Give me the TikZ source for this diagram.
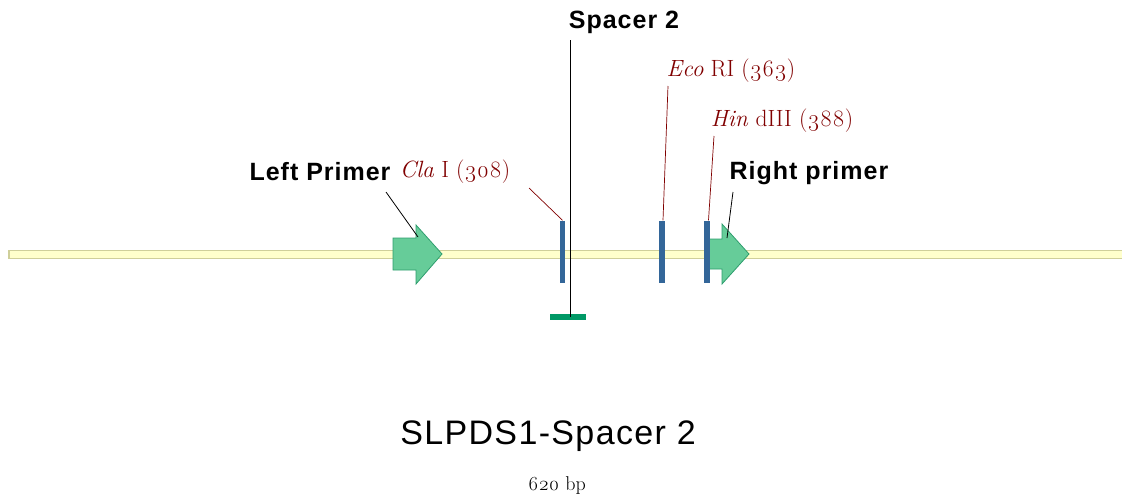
\documentclass[tikz,border=0pt]{standalone}
\usepackage{fontspec}
\newfontfamily\labfont{Liberation Sans}[LetterSpace=4]
\newfontfamily\titlefont{Liberation Sans}[LetterSpace=4]
\newfontfamily\sitefont{Latin Modern Roman}[Numbers=OldStyle]

\definecolor{sitered}{HTML}{800000}
\definecolor{barblue}{HTML}{336699}
\definecolor{primerfill}{HTML}{66CC99}
\definecolor{primerdraw}{HTML}{2E9E6E}
\definecolor{spacergreen}{HTML}{009966}
\definecolor{bbfill}{HTML}{FFFFCC}
\definecolor{bbdraw}{HTML}{CFCF9A}

\tikzset{
  primerlab/.style={font=\labfont\bfseries\fontsize{25}{27}\selectfont, inner sep=0},
  sitelab/.style={font=\sitefont\fontsize{23.5}{25}\selectfont, text=sitered, inner sep=0},
  sitebar/.style={fill=barblue, draw=none, minimum width=5.5, minimum height=62, inner sep=0},
  siteleader/.style={draw=sitered, line width=0.7pt},
  primerleader/.style={draw=black, line width=0.8pt},
  primerarrow/.style={fill=primerfill, draw=primerdraw, line width=0.8pt, line join=miter},
  backbone/.style={fill=bbfill, draw=bbdraw, line width=1.2pt},
}

\begin{document}
\begin{tikzpicture}[x=1pt, y=-1pt]
\useasboundingbox (0,0) rectangle (1122,498);

% sequence backbone
\draw[backbone] (9,250.5) rectangle (1124,258.5);

% primers
\draw[primerarrow] (393,238) -- (416,238) -- (416,225) -- (442,254) -- (416,284) -- (416,270) -- (393,270) -- cycle;
\draw[primerarrow] (706,239) -- (722,239) -- (722,224) -- (749,254) -- (722,284) -- (722,269) -- (706,269) -- cycle;
\coordinate (lptip) at (418,237);
\coordinate (rptip) at (727,238);

% restriction sites
\node[sitebar] (b308) at (562.5,251.5) {};
\node[sitebar] (b363) at (662,251.5) {};
\node[sitebar] (b388) at (707,251.5) {};

% spacer position
\node[fill=spacergreen, minimum width=36, minimum height=5.5, inner sep=0] (spbar) at (568,317) {};
\coordinate (sptop) at (570,40);
\draw[line width=0.8pt] (sptop) -- (sptop |- spbar.center);

% labels
\node[primerlab] (lpl) at (320,172) {Left Primer};
\node[primerlab] (rpl) at (809,173) {Right primer};
\node[primerlab] (spl) at (624,22) {Spacer 2};
\node[sitelab] (cla) at (455,172) {\textit{Cla} I (308)};
\node[sitelab] (eco) at (731,71) {\textit{Eco} RI (363)};
\node[sitelab] (hin) at (782,121) {\textit{Hin} dIII (388)};

% leader lines
\coordinate (lpend) at (386,192);
\coordinate (rpend) at (733,192);
\coordinate (claend) at (529,188);
\coordinate (ecoend) at (668,86);
\coordinate (hinend) at (714,136);
\draw[primerleader] (lpend) -- (lptip);
\draw[primerleader] (rpend) -- (rptip);
\draw[siteleader] (claend) -- (b308.north);
\draw[siteleader] (ecoend) -- ([xshift=1pt]b363.north);
\draw[siteleader] (hinend) -- ([xshift=1.5pt]b388.north);

% title
\node[font=\titlefont\fontsize{34}{36}\selectfont, inner sep=0] (title) at (548,436) {SLPDS1-Spacer 2};
\node[font=\sitefont\fontsize{20}{22}\selectfont, inner sep=0] (len) at (557,486) {620 bp};
\end{tikzpicture}
\end{document}
